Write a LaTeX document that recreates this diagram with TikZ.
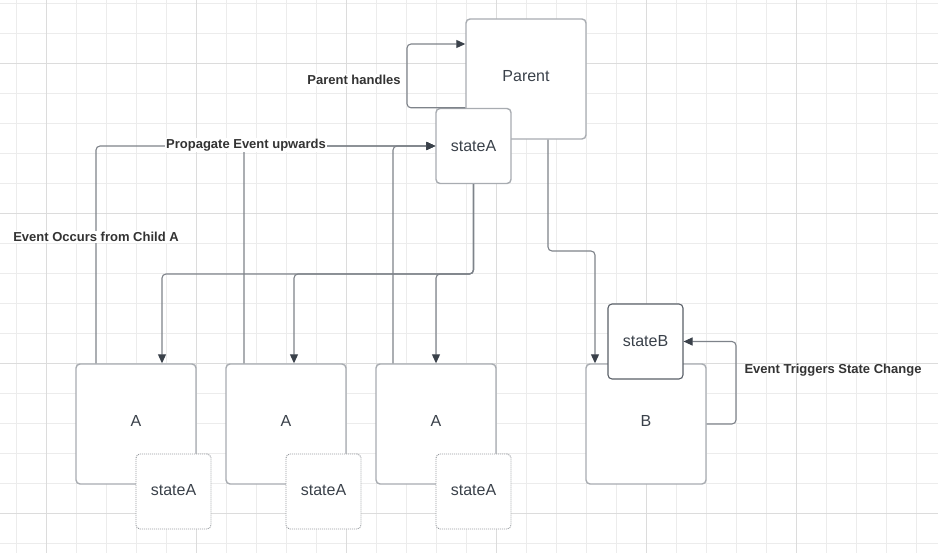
\documentclass[tikz,border=0pt]{standalone}
\usepackage{fontspec}
\setmainfont{Liberation Sans}
\usetikzlibrary{arrows.meta}
\definecolor{gminor}{HTML}{ECECEC}
\definecolor{gmajor}{HTML}{DCDCDC}
\definecolor{boxc}{HTML}{A8ACB1}
\definecolor{darkc}{HTML}{5A6068}
\definecolor{txtc}{HTML}{3A414A}
\definecolor{lblc}{HTML}{333333}
\definecolor{connc}{HTML}{7E838A}
\tikzset{
  bigbox/.style={draw=boxc, line width=1.4pt, fill=white, rounded corners=4pt,
    minimum width=120pt, minimum height=120pt, inner sep=0pt, text depth=6pt,
    font=\fontsize{16}{18}\selectfont, text=txtc},
  statebox/.style={draw=boxc, line width=1.4pt, fill=white, rounded corners=4pt,
    minimum width=75pt, minimum height=75pt, inner sep=0pt,
    font=\fontsize{16}{18}\selectfont, text=txtc},
  dotbox/.style={statebox, draw=boxc!90!black, line width=0.9pt, dash pattern=on 1pt off 1pt, text depth=3pt},
  darkbox/.style={statebox, draw=darkc, line width=1.1pt, text depth=2pt},
  conn/.style={draw=connc, line width=1.1pt, rounded corners=4pt},
  arr/.style={conn, -{Triangle[length=9pt,width=8pt,fill=txtc,color=txtc]}},
  lbl/.style={font=\bfseries\fontsize{13}{15}\selectfont, text=lblc, fill=white, inner sep=1pt}
}
\begin{document}
\begin{tikzpicture}[x=1pt,y=-1pt]
\useasboundingbox (0,0) rectangle (938,553);
\fill[white] (0,0) rectangle (938,553);
% grid
\foreach \i in {0,...,31} {
  \draw[gminor, line width=0.8pt] ({16.7+30*\i},0) -- ({16.7+30*\i},553);
}
\foreach \j in {0,...,18} {
  \draw[gminor, line width=0.8pt] (0,{3.3+30*\j}) -- (938,{3.3+30*\j});
}
\foreach \i in {0,...,5} {
  \draw[gmajor, line width=0.8pt] ({46.7+150*\i},0) -- ({46.7+150*\i},553);
}
\foreach \j in {0,...,3} {
  \draw[gmajor, line width=0.8pt] (0,{63.3+150*\j}) -- (938,{63.3+150*\j});
}

% nodes
\node[bigbox] (parent) at (526,79) {Parent};
\node[statebox] (sA) at (473.5,146) {stateA};
\node[bigbox] (a1) at (136,424) {A};
\node[bigbox] (a2) at (286,424) {A};
\node[bigbox] (a3) at (436,424) {A};
\node[dotbox] (s1) at (173.5,491.5) {stateA};
\node[dotbox] (s2) at (323.5,491.5) {stateA};
\node[dotbox] (s3) at (473.5,491.5) {stateA};
\node[bigbox] (b) at (646,424) {B};
\node[darkbox] (sB) at (645.5,341.5) {stateB};

% helper coordinates
\coordinate (ph) at (407,44);
\coordinate (dn) at (0,274);
\coordinate (pb) at (0,251);
\coordinate (et) at (736,0);

% Parent handles loop
\draw[arr] (parent.west |- sA.north) -| (ph) -- (ph -| parent.west);

% propagate upwards
\draw[arr] ([xshift=-40pt]a1.north) |- (sA.west);
\draw[arr] ([xshift=-42pt]a2.north) |- (sA.west);
\draw[arr] ([xshift=-43pt]a3.north) |- (sA.west);

% stateA down to children
\draw[arr] (sA.south) -- (sA.south |- dn) -| ([xshift=26pt]a1.north);
\draw[arr] (sA.south) -- (sA.south |- dn) -| ([xshift=8pt]a2.north);
\draw[arr] (sA.south) -- (sA.south |- dn) -| (a3.north);

% Parent to B
\draw[arr] ([xshift=22pt]parent.south) -- ([xshift=22pt]parent.south |- pb) -| ([xshift=-51pt]b.north);

% Event triggers loop
\draw[arr] (b.east) -| (et |- sB.east) -- (sB.east);

% labels
\node[lbl] (lph) at (354,80) {Parent handles};
\node[lbl] (lpe) at (246,145) {Propagate Event upwards};
\node[lbl] (leo) at (96,237) {Event Occurs from Child A};
\node[lbl, fill=none] (let) at (833,370) {Event Triggers State Change};
\end{tikzpicture}
\end{document}
